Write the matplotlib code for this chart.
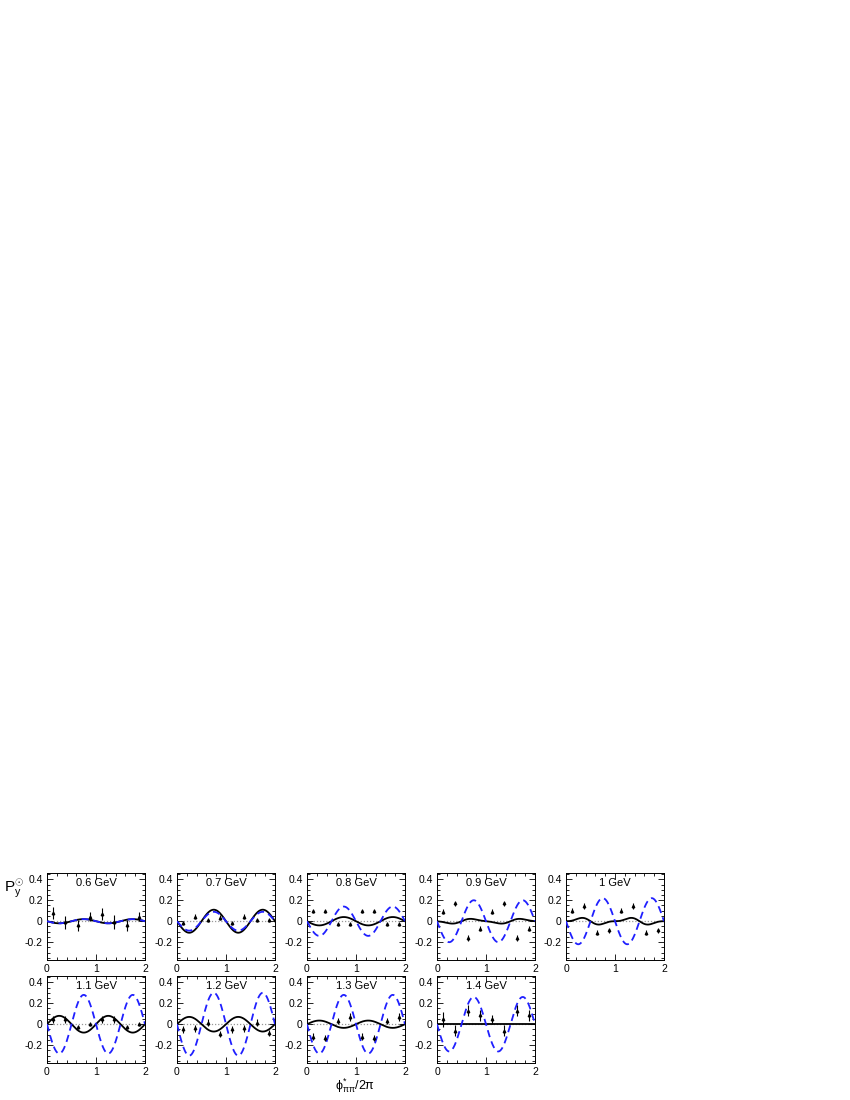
import numpy as np
import matplotlib
matplotlib.use("Agg")
import matplotlib.pyplot as plt
from matplotlib.ticker import MultipleLocator, FixedLocator

plt.rcParams['font.family'] = ['Liberation Sans', 'DejaVu Sans']
plt.rcParams['mathtext.fontset'] = 'custom'
plt.rcParams['mathtext.rm'] = 'Liberation Sans'
plt.rcParams['mathtext.it'] = 'Liberation Sans:italic'

# ---- data ----
energies = ["0.6 GeV", "0.7 GeV", "0.8 GeV", "0.9 GeV", "1 GeV",
            "1.1 GeV", "1.2 GeV", "1.3 GeV", "1.4 GeV"]
x_points = [0.125, 0.375, 0.625, 0.875, 1.125, 1.375, 1.625, 1.875]

y_06 = [0.08, -0.01, -0.04, 0.045, 0.07, -0.01, -0.04, 0.045]
e_06 = [0.055, 0.06, 0.055, 0.045, 0.06, 0.065, 0.05, 0.04]
y_07 = [-0.015, 0.045, 0.01, 0.035, -0.015, 0.045, 0.01, 0.015]
e_07 = [0.02, 0.02, 0.02, 0.02, 0.02, 0.025, 0.02, 0.02]
y_08 = [0.10, 0.10, -0.03, -0.03, 0.10, 0.10, -0.03, -0.03]
e_08 = [0.02, 0.02, 0.02, 0.02, 0.02, 0.02, 0.02, 0.02]
y_09 = [0.09, 0.17, -0.16, -0.07, 0.09, 0.17, -0.16, -0.07]
e_09 = [0.025, 0.025, 0.025, 0.025, 0.025, 0.025, 0.025, 0.025]
y_10 = [0.10, 0.145, -0.11, -0.085, 0.10, 0.145, -0.11, -0.085]
e_10 = [0.025, 0.025, 0.025, 0.025, 0.025, 0.025, 0.025, 0.025]
y_11 = [0.045, 0.045, -0.03, 0.0, 0.045, 0.045, -0.03, 0.0]
e_11 = [0.03, 0.03, 0.02, 0.02, 0.03, 0.03, 0.02, 0.02]
y_12 = [-0.05, -0.04, 0.015, -0.09, -0.05, -0.04, 0.015, -0.085]
e_12 = [0.03, 0.03, 0.03, 0.03, 0.03, 0.03, 0.03, 0.03]
y_13 = [-0.12, -0.13, 0.03, 0.07, -0.12, -0.13, 0.03, 0.07]
e_13 = [0.035, 0.03, 0.03, 0.035, 0.035, 0.03, 0.03, 0.035]
y_14 = [0.045, -0.06, 0.13, 0.085, 0.045, -0.06, 0.13, 0.085]
e_14 = [0.07, 0.05, 0.05, 0.05, 0.04, 0.05, 0.05, 0.05]

points = [y_06, y_07, y_08, y_09, y_10, y_11, y_12, y_13, y_14]
errors = [e_06, e_07, e_08, e_09, e_10, e_11, e_12, e_13, e_14]

# model curves: amplitudes of sin(2*pi*x) and sin(4*pi*x)
blue_a1 = [-0.02, -0.09, -0.14, -0.20, -0.22, -0.28, -0.30, -0.28, -0.26]
black_a1 = [-0.02, -0.11, -0.04, -0.02, 0.025, 0.08, 0.07, 0.035, 0.0]
black_a2 = [0.0, 0.0, 0.0, 0.006, -0.012, 0.0, 0.0, 0.0, 0.0]

# ---- figure ----
fig = plt.figure(figsize=(8.5, 11), dpi=100)
W, H = 850.0, 1100.0
lefts = [47, 177, 307, 437, 566]
rows = [(873, 960), (976, 1063)]
aw = 98

xc = np.linspace(0, 2, 400)
for i in range(9):
    r, c = divmod(i, 5)
    top, bot = rows[r]
    ax = fig.add_axes([lefts[c] / W, 1 - bot / H, aw / W, (bot - top) / H])
    ax.axhline(0, color='#999999', lw=0.9, ls=(0, (1, 1.5)), zorder=1)
    yb = blue_a1[i] * np.sin(2 * np.pi * xc)
    yk = black_a1[i] * np.sin(2 * np.pi * xc) + black_a2[i] * np.sin(4 * np.pi * xc)
    ax.plot(xc, yk, color='black', lw=1.3, zorder=2)
    ax.plot(xc, yb, color='#1f1fff', lw=1.3, ls=(0, (4, 2.5)), zorder=3)
    ax.errorbar(x_points, points[i], yerr=errors[i], fmt='^', ms=1.8,
                color='black', ecolor='black', elinewidth=0.8, capsize=0, zorder=4)
    ax.set_xlim(0, 2)
    ax.set_ylim(-0.37, 0.46)
    ax.xaxis.set_major_locator(FixedLocator([0, 1, 2]))
    ax.xaxis.set_minor_locator(MultipleLocator(0.2))
    ax.yaxis.set_major_locator(FixedLocator([-0.2, 0, 0.2, 0.4]))
    ax.yaxis.set_minor_locator(MultipleLocator(0.05))
    ax.set_yticklabels(['-0.2', '0', '0.2', '0.4'])
    ax.set_xticklabels(['0', '1', '2'])
    ax.tick_params(which='both', direction='in', top=True, right=True,
                   labelsize=7.5, width=0.6, pad=3)
    ax.tick_params(which='major', length=4)
    ax.tick_params(which='minor', length=2)
    for s in ax.spines.values():
        s.set_linewidth(0.7)
    ax.text(0.5, 0.88, energies[i], transform=ax.transAxes, ha='center',
            va='center', fontsize=8)

fig.text(4 / W, 1 - 889 / H, r"P$_{\mathregular{y}}^{\odot}$", fontsize=11,
         ha='left', va='center')
fig.text(355 / W, 1 - 1086 / H, r"$\mathregular{\phi^{*}_{\pi\pi}/2\pi}$",
         fontsize=9, ha='center', va='center')

fig.savefig("out.png", dpi=100)
